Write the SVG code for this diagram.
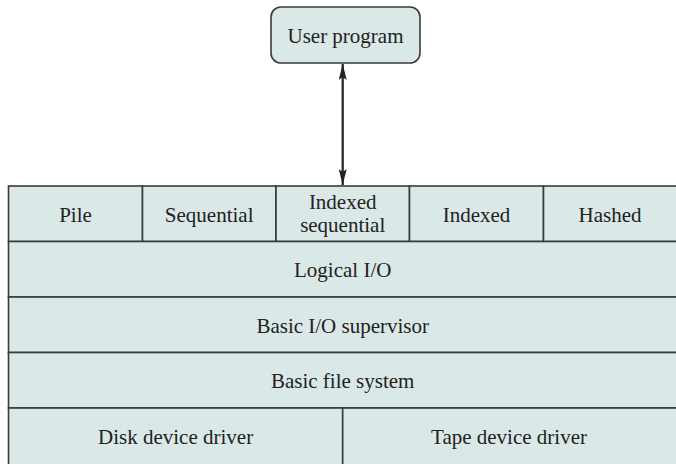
<svg xmlns="http://www.w3.org/2000/svg" width="676" height="464" viewBox="0 0 676 464">
<defs>
<style>
.box{fill:#dbe8e8;stroke:#3a3a3a;stroke-width:1.6}
.t{font-family:"Liberation Serif","Times New Roman",serif;font-size:21px;fill:#222;text-anchor:middle}
</style>
<marker id="ah2" viewBox="0 0 16 8" refX="16" refY="4" markerWidth="16" markerHeight="8" orient="auto-start-reverse" markerUnits="userSpaceOnUse">
<path d="M0,0 L16,4 L0,8 L3,4 Z" fill="#222"/>
</marker>
</defs>
<rect x="0" y="0" width="676" height="464" fill="#ffffff"/>
<g id="connectors">
<line x1="342.7" y1="64" x2="342.7" y2="185" stroke="#222" stroke-width="2.2" marker-start="url(#ah2)" marker-end="url(#ah2)"/>
</g>
<g id="user-program">
<rect class="box" x="271" y="7" width="149" height="56" rx="10"/>
<text class="t" x="345.5" y="43">User program</text>
</g>
<g id="pile">
<rect class="box" x="8.5" y="186" width="134" height="55.5"/>
<text class="t" x="75.5" y="221.5">Pile</text>
</g>
<g id="sequential">
<rect class="box" x="142.5" y="186" width="133.5" height="55.5"/>
<text class="t" x="209.2" y="221.5">Sequential</text>
</g>
<g id="indexed-sequential">
<rect class="box" x="276" y="186" width="133.5" height="55.5"/>
<text class="t" x="342.7" y="209">Indexed</text>
<text class="t" x="342.7" y="231.5">sequential</text>
</g>
<g id="indexed">
<rect class="box" x="409.5" y="186" width="134" height="55.5"/>
<text class="t" x="476.5" y="221.5">Indexed</text>
</g>
<g id="hashed">
<rect class="box" x="543.5" y="186" width="134" height="55.5"/>
<text class="t" x="610" y="221.5">Hashed</text>
</g>
<g id="logical-io">
<rect class="box" x="8.5" y="241.5" width="669" height="55.5"/>
<text class="t" x="342.7" y="276.5">Logical I/O</text>
</g>
<g id="basic-io-supervisor">
<rect class="box" x="8.5" y="297" width="669" height="55.5"/>
<text class="t" x="342.7" y="332.5">Basic I/O supervisor</text>
</g>
<g id="basic-file-system">
<rect class="box" x="8.5" y="352.5" width="669" height="55.5"/>
<text class="t" x="342.7" y="388">Basic file system</text>
</g>
<g id="disk-device-driver">
<rect class="box" x="8.5" y="408" width="334.2" height="60"/>
<text class="t" x="175.6" y="443.5">Disk device driver</text>
</g>
<g id="tape-device-driver">
<rect class="box" x="342.7" y="408" width="335" height="60"/>
<text class="t" x="509" y="443.5">Tape device driver</text>
</g>
</svg>
